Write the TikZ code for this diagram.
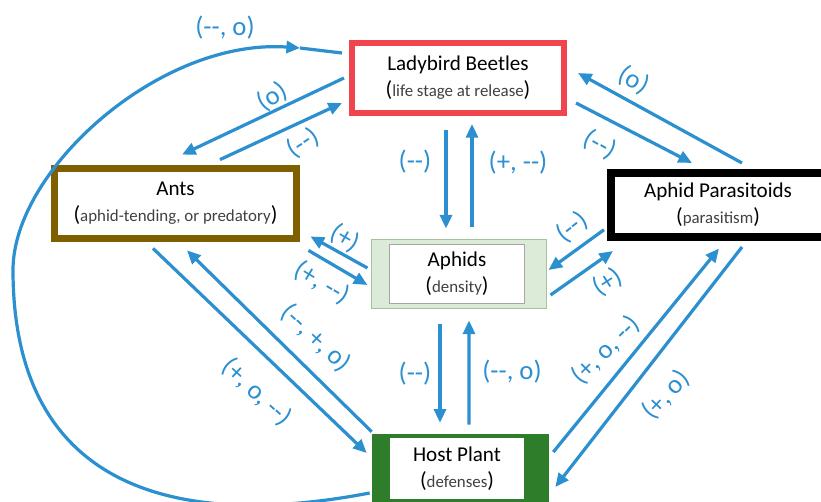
\documentclass[tikz,border=0pt]{standalone}
\usepackage{fontspec}
\setmainfont{Carlito}
\usetikzlibrary{arrows.meta}

\definecolor{arrowblue}{HTML}{2B8FD0}
\definecolor{beetlered}{HTML}{F0454D}
\definecolor{antbrown}{HTML}{7F6000}
\definecolor{plantgreen}{HTML}{2E7D2A}
\definecolor{aphidfill}{HTML}{DCEBD8}
\definecolor{aphidline}{HTML}{A8C2A0}

\newcommand{\subtext}[1]{{\fontsize{15.5}{18.5}\selectfont(}{\fontsize{12}{18.5}\selectfont\color{black!75}#1}{\fontsize{15.5}{18.5}\selectfont)}}

\begin{document}
\begin{tikzpicture}[x=0.025cm, y=-0.025cm,
	box/.style={align=center, inner sep=0pt, text=black, font=\fontsize{15}{18.5}\selectfont},
	arr/.style={draw=arrowblue, line width=0.08cm, -{Triangle[length=0.34cm,width=0.3cm]}},
	sign/.style={text=arrowblue, inner sep=0pt, font=\fontsize{19}{21}\selectfont}]

\useasboundingbox (0,0) rectangle (821,501);

\node[box, draw=beetlered, line width=0.15cm, minimum width=5.3cm, minimum height=1.725cm] (lb) at (458,78) {Ladybird Beetles\\\subtext{life stage at release}};
\node[box, draw=antbrown, line width=0.17cm, minimum width=6.05cm, minimum height=1.75cm] (ants) at (175.5,203.5) {Ants\\\subtext{aphid-tending, or predatory}};
\node[box, draw=black, line width=0.2cm, minimum width=5.35cm, minimum height=1.5875cm] (par) at (718,204.75) {Aphid Parasitoids\\\subtext{parasitism}};

\node[draw=aphidline, fill=aphidfill, line width=0.025cm, minimum width=4.35cm, minimum height=1.7cm] (aph) at (459,274) {};
\node[box, draw=gray!70, fill=white, line width=0.025cm, minimum width=3.35cm, minimum height=1.45cm] (aphtxt) at (457,274) {Aphids\\\subtext{density}};

\node[fill=plantgreen, inner sep=0pt, minimum width=4.425cm, minimum height=1.75cm] (hp) at (460.5,469) {};
\node[box, fill=white, minimum width=3.35cm, minimum height=1.525cm] (hptxt) at (457,468.5) {Host Plant\\\subtext{defenses}};

\coordinate (looptip) at (300,48);

\path ([shift={(-5,0)}]lb.west) edge [arr] ([shift={(6.5,-10.5)}]ants.north);
\path ([shift={(44.5,-5.5)}]ants.north) edge [arr] ([shift={(-7,25)}]lb.west);
\path ([shift={(-12,14.5)}]lb.south) edge [arr] ([shift={(-13,-11)}]aph.north);
\path ([shift={(13,-12)}]aph.north) edge [arr] ([shift={(14,8.5)}]lb.south);
\path ([shift={(9,25)}]lb.east) edge [arr] ([shift={(-26,-6)}]par.north);
\path ([shift={(24,-6)}]par.north) edge [arr] ([shift={(11,-5)}]lb.east);

\path ([shift={(-4,-6)}]aph.west) edge [arr] ([shift={(10.5,-5.5)}]ants.south east);
\path ([shift={(8.5,8.5)}]ants.south east) edge [arr] ([shift={(-4,11)}]aph.west);
\path ([shift={(-3,25)}]par.west) edge [arr] ([shift={(2,-4)}]aph.east);
\path ([shift={(4,21)}]aph.east) edge [arr] ([shift={(6,10.5)}]par.south west);

\path ([shift={(-22.5,6.5)}]ants.south) edge [arr] ([shift={(-5,-16)}]hp.west);
\path ([shift={(0,-2)}]hp.north west) edge [arr] ([shift={(11.5,8.5)}]ants.south);
\path ([shift={(-19,15)}]aph.south) edge [arr] ([shift={(-20.5,-11)}]hp.north);
\path ([shift={(8.5,-9)}]hp.north) edge [arr] ([shift={(10,12)}]aph.south);
\path ([shift={(4,-17)}]hp.east) edge [arr] ([shift={(1,8)}]par.south);
\path ([shift={(24,6.5)}]par.south) edge [arr] ([shift={(6,18)}]hp.east);

\draw[arr] ([shift={(-2,24)}]hp.west) .. controls (150,535) and (13,470) .. (13,270) .. controls (13,170) and (160,38) .. (looptip);
\draw[draw=arrowblue, line width=0.08cm] (looptip) -- ([shift={(-7,-25)}]lb.west);

\node[sign] (s1) at (225,28) {(-{}-, o)};
\node[sign, rotate=32] (s2) at (272,97) {(o)};
\node[sign, rotate=33] (s3) at (303,143) {(-{}-)};
\node[sign] (s4) at (415,162) {(-{}-)};
\node[sign] (s5) at (518,163) {(+, -{}-)};
\node[sign, rotate=-30] (s6) at (634,80) {(o)};
\node[sign, rotate=-30] (s7) at (600,145) {(-{}-)};
\node[sign, rotate=-30] (s8) at (345,238) {(+)};
\node[sign, rotate=-31] (s9) at (322,283) {(+, -{}-)};
\node[sign, rotate=38] (s10) at (572,227) {(-{}-)};
\node[sign, rotate=33] (s11) at (608,282) {(+)};
\node[sign, rotate=-43] (s12) at (316,338) {(-{}-, +, o)};
\node[sign, rotate=-43] (s13) at (257,392) {(+, o, -{}-)};
\node[sign] (s14) at (415,374) {(-{}-)};
\node[sign] (s15) at (512,372) {(-{}-, o)};
\node[sign, rotate=45] (s16) at (606,350) {(+, o, -{}-)};
\node[sign, rotate=47] (s17) at (666,395) {(+, o)};

\end{tikzpicture}
\end{document}
